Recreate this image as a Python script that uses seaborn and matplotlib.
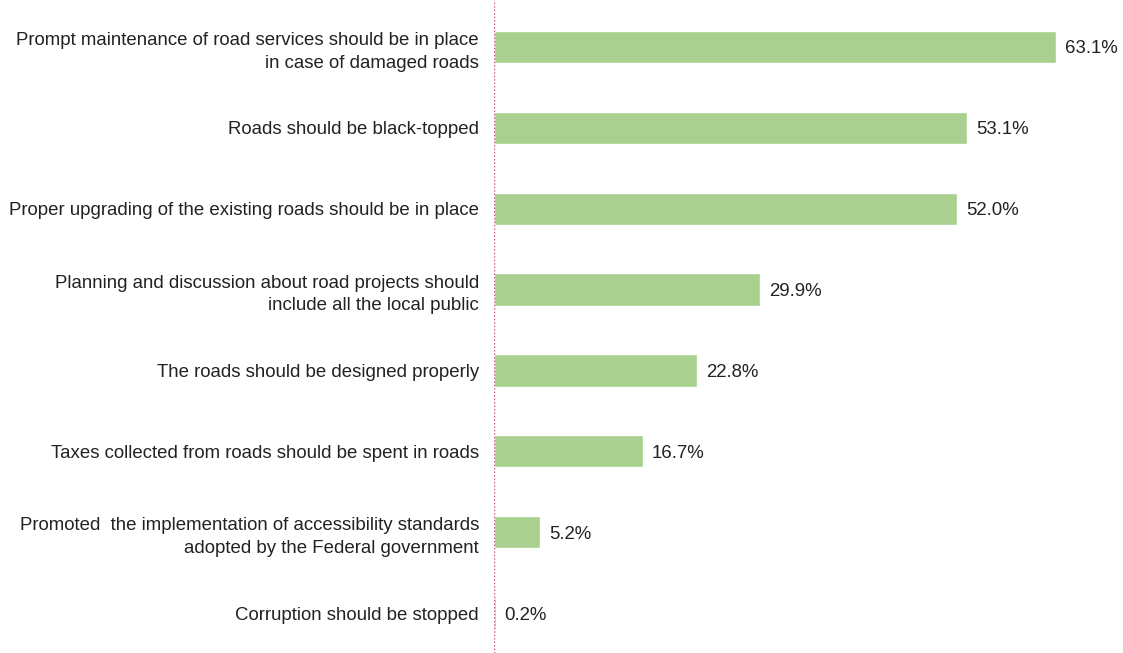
import matplotlib
matplotlib.use("Agg")
import matplotlib.pyplot as plt
import seaborn as sns
import pandas as pd

categories = [
    "Prompt maintenance of road services should be in place\nin case of damaged roads",
    "Roads should be black-topped",
    "Proper upgrading of the existing roads should be in place",
    "Planning and discussion about road projects should\ninclude all the local public",
    "The roads should be designed properly",
    "Taxes collected from roads should be spent in roads",
    "Promoted  the implementation of accessibility standards\nadopted by the Federal government",
    "Corruption should be stopped",
]
values = [63.1, 53.1, 52.0, 29.9, 22.8, 16.7, 5.2, 0.2]

df = pd.DataFrame({"category": categories, "value": values})

sns.set_style("white")
plt.rcParams["font.family"] = ["Liberation Sans", "DejaVu Sans"]

FS = 13.4

fig = plt.figure(figsize=(11.23, 6.53), dpi=100)
ax = fig.add_axes([494 / 1123, 0.0, 1 - 494 / 1123, 1.0])

sns.barplot(data=df, x="value", y="category", orient="h", color="#A9D08E",
            saturation=1, width=0.4, ax=ax)

for i, v in enumerate(values):
    ax.text(v + 1.0, i, f"{v:.1f}%", va="center_baseline", ha="left",
            fontsize=FS, color="#222222")

ax.set_xlim(0, 70.6)
ax.set_ylim(7.494, -0.581)
ax.set_xlabel("")
ax.set_ylabel("")
ax.set_xticks([])
ax.tick_params(axis="y", length=0, pad=10.8, labelsize=FS, labelcolor="#222222")
for lbl in ax.get_yticklabels():
    lbl.set_multialignment("right")
    lbl.set_linespacing(1.45)
for s in ax.spines.values():
    s.set_visible(False)
ax.axvline(0, color="#C8507A", linestyle=(0, (1, 1.5)), linewidth=1.0)

fig.savefig("out.png", dpi=100)
